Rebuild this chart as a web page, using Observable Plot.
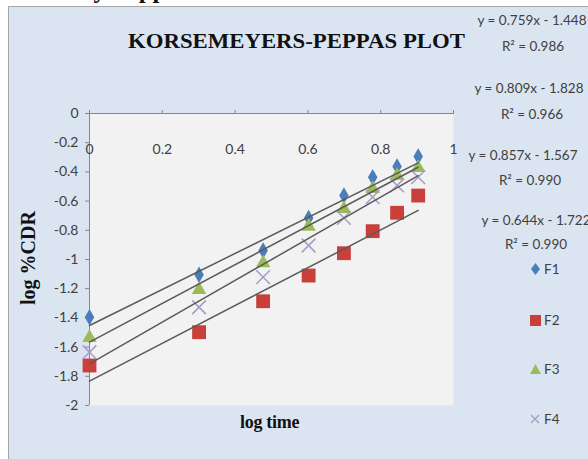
<!DOCTYPE html>
<html>
<head>
<meta charset="utf-8">
<script src="https://cdn.jsdelivr.net/npm/d3@7"></script>
<script src="https://cdn.jsdelivr.net/npm/@observablehq/plot@0.6"></script>
<style>
  html, body { margin: 0; padding: 0; background: #fff; }
  #wrap { position: relative; width: 588px; height: 459px; overflow: hidden; background: #fff; }
  #panel { position: absolute; left: 8px; top: 6px; width: 600px; height: 470px; background: #dbe5f1; border: 1px solid #a6a6a6; box-sizing: border-box; }
  #chart { position: absolute; left: 0; top: 0; }
  .abs { position: absolute; white-space: nowrap; }
  .serifb { font-family: "Liberation Serif", "DejaVu Serif", serif; font-weight: bold; color: #111; line-height: 1; }
  .eq { font-family: Lato, "Open Sans", sans-serif; font-size: 13.5px; color: #404040; text-align: center; width: 130px; line-height: 16px; }
  .leg { font-family: Lato, "Open Sans", sans-serif; font-size: 13.5px; color: #404040; display: flex; align-items: center; gap: 2px; }
</style>
</head>
<body>
<div id="wrap">
  <div class="abs serifb" style="left:-46px; top:-23px; font-size:25px;">Kinetics study Peppas</div>
  <div id="panel"></div>
  <div id="chart"></div>
  <div class="abs serifb" style="left:128px; top:31px; font-size:21px; transform: scaleX(1.085); transform-origin: 0 0;">KORSEMEYERS-PEPPAS PLOT</div>
  <div class="abs serifb" style="left:-22px; top:248px; font-size:20px; width:100px; text-align:center; transform: rotate(-90deg); transform-origin: 50px 10px;">log %CDR</div>
  <div class="abs serifb" style="left:240px; top:413px; font-size:18px; letter-spacing:-0.3px;">log time</div>
  <div id="eqs"></div>
  <div id="legend"></div>
</div>
<script>
// ---- data ----
const series = ["F1", "F2", "F3", "F4"];
const logTime = [0, 0.301, 0.477, 0.602, 0.699, 0.778, 0.845, 0.903];
const F1 = [-1.395, -1.105, -0.938, -0.715, -0.562, -0.436, -0.363, -0.295];
const F2 = [-1.726, -1.498, -1.286, -1.110, -0.957, -0.806, -0.680, -0.562];
const F3 = [-1.536, -1.208, -1.025, -0.774, -0.653, -0.516, -0.425, -0.372];
const F4 = [-1.635, -1.327, -1.121, -0.904, -0.715, -0.573, -0.493, -0.436];
// trend lines (start / end values)
const trendX = [0, 0.903];
const trendF1 = [-1.452, -0.338];
const trendF2 = [-1.833, -0.664];
const trendF3 = [-1.566, -0.368];
const trendF4 = [-1.715, -0.425];
const equations = ["y = 0.759x - 1.448", "y = 0.809x - 1.828", "y = 0.857x - 1.567", "y = 0.644x - 1.722"];
const r2Labels = ["R\u00b2 = 0.986", "R\u00b2 = 0.966", "R\u00b2 = 0.990", "R\u00b2 = 0.990"];
const xTicks = [0, 0.2, 0.4, 0.6, 0.8, 1];
const yTicks = [0, -0.2, -0.4, -0.6, -0.8, -1, -1.2, -1.4, -1.6, -1.8, -2];

const colors = {F1: "#4a7ebb", F2: "#c9403a", F3: "#9bbb59", F4: "#a49cc6"};
const values = {F1, F2, F3, F4};
const trends = {F1: trendF1, F2: trendF2, F3: trendF3, F4: trendF4};

const points = s => logTime.map((x, i) => ({x, y: values[s][i]}));
const trendPts = s => trendX.map((x, i) => ({x, y: trends[s][i]}));

const chart = Plot.plot({
  width: 588,
  height: 459,
  marginLeft: 89,
  marginRight: 135,
  marginTop: 113,
  marginBottom: 54,
  style: {background: "transparent", fontFamily: "Lato, 'Open Sans', sans-serif", fontSize: "14px", color: "#404040"},
  x: {domain: [0, 1]},
  y: {domain: [-2, 0]},
  marks: [
    Plot.frame({fill: "#f2f2f2", stroke: null}),
    Plot.axisY({ticks: yTicks, tickSize: 4, tickPadding: 7, stroke: "#868686", tickFormat: d => String(+d.toFixed(1)), label: null, fontSize: 14}),
    Plot.axisX({anchor: "top", ticks: xTicks, tickSize: 4, stroke: "#868686", tickFormat: () => "", label: null}),
    Plot.ruleX([0], {stroke: "#868686"}),
    Plot.ruleY([0], {stroke: "#868686"}),
    Plot.text(xTicks, {x: d => d, frameAnchor: "top", dy: 31, text: d => String(d), fontSize: 14, fill: "#404040"}),
    // markers
    Plot.dot(points("F1"), {x: "x", y: "y", symbol: "diamond", r: 5, fill: colors.F1}),
    Plot.dot(points("F2"), {x: "x", y: "y", symbol: "square", r: 7.8, fill: colors.F2}),
    Plot.dot(points("F3"), {x: "x", y: "y", symbol: "triangle", r: 5.4, fill: colors.F3}),
    Plot.dot(points("F4"), {x: "x", y: "y", symbol: "times", r: 6.3, stroke: colors.F4, strokeWidth: 1.5}),
    // trend lines
    ...series.map(s => Plot.line(trendPts(s), {x: "x", y: "y", stroke: "#5a5a5a", strokeWidth: 1.5}))
  ]
});
document.getElementById("chart").appendChild(chart);

// equation labels
const eqTops = [12, 80, 147, 212];
const eqLefts = [467, 464, 458, 471];
const r2Tops = [38, 106, 172, 236];
const r2Lefts = [468, 467, 465, 471];
const eqBox = document.getElementById("eqs");
equations.forEach((e, i) => {
  const d1 = document.createElement("div");
  d1.className = "abs eq";
  d1.style.left = eqLefts[i] + "px";
  d1.style.top = eqTops[i] + "px";
  d1.textContent = e;
  eqBox.appendChild(d1);
  const d2 = document.createElement("div");
  d2.className = "abs eq";
  d2.style.left = r2Lefts[i] + "px";
  d2.style.top = r2Tops[i] + "px";
  d2.textContent = r2Labels[i];
  eqBox.appendChild(d2);
});

// legend
const legTops = [261, 312, 361, 411];
const symPaths = {
  F1: `<path d="M5.5,0 L10,6 L5.5,12 L1,6 Z" fill="${colors.F1}"/>`,
  F2: `<rect x="0" y="1" width="11" height="11" fill="${colors.F2}"/>`,
  F3: `<path d="M5.5,1 L11,11 L0,11 Z" fill="${colors.F3}"/>`,
  F4: `<path d="M1,2 L9,10 M9,2 L1,10" stroke="${colors.F4}" stroke-width="1.3"/>`
};
const legBox = document.getElementById("legend");
series.forEach((s, i) => {
  const d = document.createElement("div");
  d.className = "abs leg";
  d.style.left = "530px";
  d.style.top = legTops[i] + "px";
  d.innerHTML = `<svg width="12" height="13">${symPaths[s]}</svg><span>${s}</span>`;
  legBox.appendChild(d);
});
</script>
</body>
</html>
